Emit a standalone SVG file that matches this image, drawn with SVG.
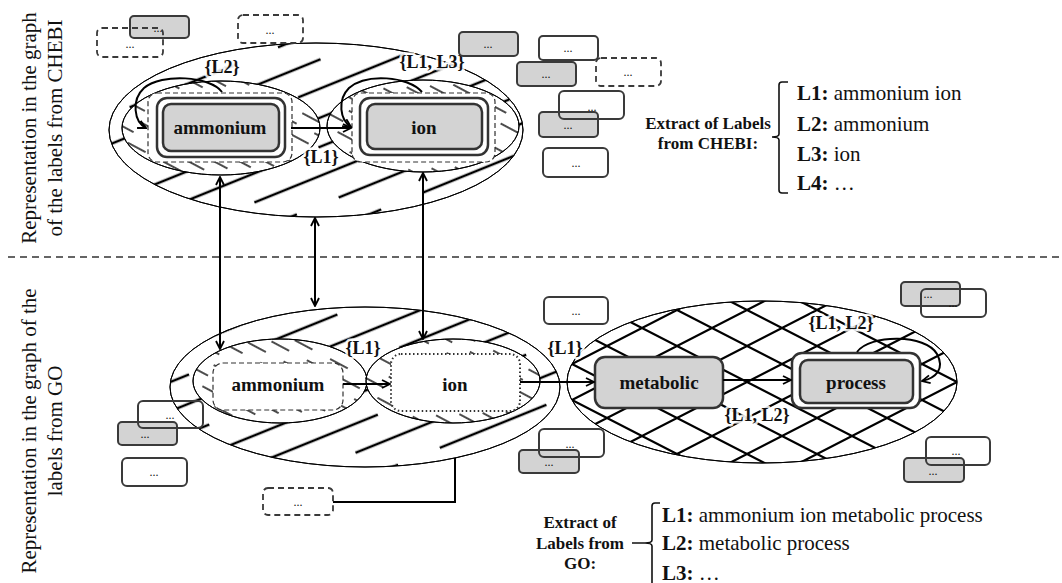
<svg xmlns="http://www.w3.org/2000/svg" width="1062" height="583" viewBox="0 0 1062 583">
  <defs>
    <style>
      text { font-family: "Liberation Serif", "Times New Roman", serif; fill: #111; }
      .side { font-size: 21px; }
      .node { font-size: 19px; font-weight: bold; text-anchor: middle; }
      .lbl { font-size: 18px; font-weight: bold; text-anchor: middle; stroke: #fff; stroke-opacity: 0.85; stroke-width: 5; stroke-linejoin: round; paint-order: stroke; }
      .dots { font-size: 12px; text-anchor: middle; }
      .ext { font-size: 17px; font-weight: bold; text-anchor: middle; }
      .list { font-size: 21px; }
      .b { fill: #fff; stroke: #3a3a3a; stroke-width: 2; }
      .bo { fill: none; stroke: #3a3a3a; stroke-width: 2; }
      .g { fill: #d3d3d3; stroke: #3a3a3a; stroke-width: 2; }
      .d { fill: #fff; stroke: #3a3a3a; stroke-width: 1.8; stroke-dasharray: 6 4; }
      .do { fill: none; stroke: #3a3a3a; stroke-width: 1.8; stroke-dasharray: 6 4; }
      .outer { stroke: #000; stroke-width: 1; }
      .inner { stroke: #000; stroke-width: 1; }
      .frame { fill: #fff; stroke: #333; stroke-width: 1.2; stroke-dasharray: 5 3; }
      .nodeOut { fill: #fff; stroke: #333; stroke-width: 2.5; }
      .nodeIn { fill: #d3d3d3; stroke: #333; stroke-width: 2.5; }
      .arr { fill: none; stroke: #000; stroke-width: 2; }
    </style>
    <!-- wide upward diagonal hatch -->
    <pattern id="diag" patternUnits="userSpaceOnUse" width="160" height="54" patternTransform="rotate(-22)">
      <g stroke="#000" stroke-width="2.4">
        <line x1="0" y1="13" x2="115" y2="13"/>
        <line x1="80" y1="40" x2="160" y2="40"/>
        <line x1="0" y1="40" x2="35" y2="40"/>
      </g>
    </pattern>
    <!-- fine downward hatch -->
    <pattern id="fine" patternUnits="userSpaceOnUse" width="40" height="24" patternTransform="rotate(28)">
      <g stroke="#000" stroke-width="1.4">
        <line x1="0" y1="6" x2="20" y2="6"/>
        <line x1="20" y1="18" x2="40" y2="18"/>
      </g>
    </pattern>
    <!-- diamond cross hatch -->
    <pattern id="cross" patternUnits="userSpaceOnUse" width="70" height="36" x="12" y="4">
      <path d="M0,0 L70,36 M0,36 L70,0" stroke="#000" stroke-width="2.2" fill="none"/>
    </pattern>
    <marker id="ah" viewBox="0 0 10 10" refX="9" refY="5" markerWidth="10" markerHeight="10" markerUnits="userSpaceOnUse" orient="auto-start-reverse">
      <path d="M1,1 L9,5 L1,9" fill="none" stroke="#000" stroke-width="1.8"/>
    </marker>
  </defs>

  <rect width="1062" height="583" fill="#fff"/>

  <!-- side captions -->
  <text class="side" text-anchor="middle" transform="translate(36,128) rotate(-90)">Representation in the graph</text>
  <text class="side" text-anchor="middle" transform="translate(62,128) rotate(-90)">of the labels from CHEBI</text>
  <text class="side" text-anchor="middle" transform="translate(36,431) rotate(-90)">Representation in the graph of the</text>
  <text class="side" text-anchor="middle" transform="translate(62,431) rotate(-90)">labels from GO</text>

  <!-- section divider -->
  <line x1="8" y1="257" x2="1062" y2="257" stroke="#333" stroke-width="1.6" stroke-dasharray="7 5"/>

  <!-- CHEBI graph -->
  <g id="chebi-group">
    <ellipse cx="316" cy="130" rx="207" ry="87" fill="#fff" class="outer"/>
    <ellipse cx="316" cy="130" rx="207" ry="87" fill="url(#diag)" class="outer"/>
  </g>
  <g id="chebi-ammonium">
    <ellipse cx="221" cy="128" rx="99" ry="47" fill="#fff" class="inner"/>
    <ellipse cx="221" cy="128" rx="99" ry="47" fill="url(#fine)" class="inner"/>
    <rect x="148" y="93" width="144" height="69" rx="9" class="frame"/>
    <rect x="157" y="98" width="128" height="59" rx="10" class="nodeOut"/>
    <rect x="163" y="104" width="116" height="47" rx="8" class="nodeIn"/>
    <text class="node" x="220" y="134">ammonium</text>
  </g>
  <g id="chebi-ion">
    <ellipse cx="423" cy="126" rx="96" ry="46" fill="#fff" class="inner"/>
    <ellipse cx="423" cy="126" rx="96" ry="46" fill="url(#fine)" class="inner"/>
    <rect x="352" y="93" width="143" height="69" rx="9" class="frame"/>
    <rect x="360" y="98" width="128" height="57" rx="10" class="nodeOut"/>
    <rect x="367" y="104" width="115" height="45" rx="8" class="nodeIn"/>
    <text class="node" x="424" y="134">ion</text>
  </g>

  <!-- GO graph -->
  <g id="go-group-left">
    <ellipse cx="365" cy="387" rx="195" ry="80" fill="#fff" class="outer"/>
    <ellipse cx="365" cy="387" rx="195" ry="80" fill="url(#diag)" class="outer"/>
  </g>
  <g id="go-ammonium">
    <ellipse cx="280" cy="381" rx="87" ry="42" fill="#fff" class="inner"/>
    <ellipse cx="280" cy="381" rx="87" ry="42" fill="url(#fine)" class="inner"/>
    <rect x="213" y="363" width="130" height="47" rx="10" class="frame" stroke-width="1.4"/>
    <text class="node" x="278" y="391">ammonium</text>
  </g>
  <g id="go-ion">
    <ellipse cx="453" cy="381" rx="87" ry="42" fill="#fff" class="inner"/>
    <ellipse cx="453" cy="381" rx="87" ry="42" fill="url(#fine)" class="inner"/>
    <rect x="391" y="354" width="129" height="57" rx="10" fill="#fff" stroke="#333" stroke-width="2" stroke-dasharray="1.5 2.5"/>
    <text class="node" x="455" y="391">ion</text>
  </g>
  <g id="go-group-right">
    <ellipse cx="762" cy="382" rx="195" ry="81" fill="#fff" class="outer"/>
    <ellipse cx="762" cy="382" rx="195" ry="81" fill="url(#cross)" class="outer"/>
  </g>
  <g id="go-metabolic">
    <rect x="595" y="357" width="128" height="51" rx="10" class="nodeIn"/>
    <text class="node" x="659" y="389">metabolic</text>
  </g>
  <g id="go-process">
    <rect x="792" y="353" width="128" height="55" rx="10" class="nodeOut"/>
    <rect x="800" y="360" width="113" height="43" rx="8" class="nodeIn"/>
    <text class="node" x="856" y="389">process</text>
  </g>

  <!-- connectors -->
  <g id="connectors">
    <line x1="291" y1="128" x2="351" y2="128" class="arr" marker-end="url(#ah)"/>
    <path d="M222,92 C210,76 162,73 144,88 C131,100 134,122 146,128" class="arr" marker-end="url(#ah)"/>
    <path d="M422,92 C408,76 366,73 349,88 C337,100 340,120 351,127" class="arr" marker-end="url(#ah)"/>
    <line x1="220" y1="177" x2="220" y2="349" class="arr" marker-start="url(#ah)" marker-end="url(#ah)"/>
    <line x1="315" y1="218" x2="315" y2="306" class="arr" marker-start="url(#ah)" marker-end="url(#ah)"/>
    <line x1="423" y1="173" x2="423" y2="339" class="arr" marker-start="url(#ah)" marker-end="url(#ah)"/>
    <line x1="343" y1="384" x2="390" y2="384" class="arr" marker-end="url(#ah)"/>
    <line x1="520" y1="382" x2="594" y2="382" class="arr" marker-end="url(#ah)"/>
    <line x1="723" y1="380" x2="791" y2="380" class="arr" marker-end="url(#ah)"/>
    <path d="M857,352 C870,334 926,334 937,354 C945,369 936,378 922,381" class="arr" marker-end="url(#ah)"/>
    <polyline points="333,502 455,502 455,458" class="arr"/>
  </g>

  <!-- edge labels -->
  <g id="edge-labels">
    <text class="lbl" x="222" y="73">{L2}</text>
    <text class="lbl" x="321" y="163">{L1}</text>
    <text class="lbl" x="432" y="68">{L1, L3}</text>
    <text class="lbl" x="363" y="354">{L1}</text>
    <text class="lbl" x="565" y="354">{L1}</text>
    <text class="lbl" x="841" y="329">{L1, L2}</text>
    <text class="lbl" x="757" y="421">{L1, L2}</text>
  </g>

  <!-- other label nodes -->
  <g id="more-chebi-1">
    <rect x="130" y="16" width="59" height="22" rx="4" class="g"/>
    <text class="dots" x="158" y="32">...</text>
    <rect x="97" y="28" width="66" height="29" rx="5" class="do"/>
    <text class="dots" x="130" y="48">...</text>
  </g>
  <g id="more-chebi-2">
    <rect x="238" y="15" width="65" height="28" rx="5" class="d"/>
    <text class="dots" x="270" y="34">...</text>
  </g>
  <g id="more-chebi-3">
    <rect x="459" y="32" width="59" height="24" rx="4" class="g"/>
    <text class="dots" x="488" y="48">...</text>
  </g>
  <g id="more-chebi-4">
    <rect x="539" y="36" width="59" height="24" rx="4" class="b"/>
    <text class="dots" x="568" y="52">...</text>
  </g>
  <g id="more-chebi-5">
    <rect x="517" y="62" width="59" height="24" rx="4" class="g"/>
    <text class="dots" x="546" y="78">...</text>
  </g>
  <g id="more-chebi-6">
    <rect x="596" y="58" width="65" height="28" rx="5" class="d"/>
    <text class="dots" x="628" y="76">...</text>
  </g>
  <g id="more-chebi-7">
    <rect x="539" y="112" width="59" height="25" rx="4" class="g"/>
    <text class="dots" x="568" y="129">...</text>
    <rect x="559" y="91" width="65" height="28" rx="5" class="bo"/>
    <text class="dots" x="592" y="111">...</text>
  </g>
  <g id="more-chebi-8">
    <rect x="543" y="148" width="65" height="29" rx="5" class="b"/>
    <text class="dots" x="576" y="167">...</text>
  </g>

  <g id="more-go-1">
    <rect x="544" y="297" width="64" height="27" rx="5" class="b"/>
    <text class="dots" x="576" y="315">...</text>
  </g>
  <g id="more-go-2">
    <rect x="519" y="450" width="60" height="23" rx="4" class="g"/>
    <text class="dots" x="549" y="466">...</text>
    <rect x="539" y="429" width="65" height="28" rx="5" class="bo"/>
    <text class="dots" x="570" y="448">...</text>
  </g>
  <g id="more-go-3">
    <rect x="118" y="422" width="59" height="23" rx="4" class="g"/>
    <text class="dots" x="145" y="438">...</text>
    <rect x="138" y="401" width="65" height="27" rx="5" class="bo"/>
    <text class="dots" x="170" y="419">...</text>
  </g>
  <g id="more-go-4">
    <rect x="122" y="458" width="65" height="28" rx="5" class="b"/>
    <text class="dots" x="154" y="476">...</text>
  </g>
  <g id="more-go-5">
    <rect x="263" y="488" width="70" height="27" rx="5" class="d" stroke-width="1.4"/>
    <text class="dots" x="298" y="506">...</text>
  </g>
  <g id="more-go-6">
    <rect x="901" y="282" width="59" height="24" rx="4" class="g"/>
    <text class="dots" x="928" y="298">...</text>
    <rect x="921" y="289" width="65" height="28" rx="5" class="bo"/>
    <text class="dots" x="953" y="307">...</text>
  </g>
  <g id="more-go-7">
    <rect x="904" y="458" width="60" height="24" rx="4" class="g"/>
    <text class="dots" x="933" y="475">...</text>
    <rect x="926" y="437" width="64" height="28" rx="5" class="bo"/>
    <text class="dots" x="956" y="455">...</text>
  </g>

  <!-- CHEBI label extract -->
  <g id="chebi-extract">
    <text class="ext" x="708" y="129">Extract of Labels</text>
    <text class="ext" x="708" y="149">from CHEBI:</text>
    <path d="M788,82 L782,82 Q779,82 779,85 L779,134 Q779,137 772,137 Q779,137 779,140 L779,190 Q779,193 782,193 L788,193" fill="none" stroke="#111" stroke-width="1.6"/>
    <text class="list" x="797" y="100"><tspan font-weight="bold">L1:</tspan> ammonium ion</text>
    <text class="list" x="797" y="131"><tspan font-weight="bold">L2:</tspan> ammonium</text>
    <text class="list" x="797" y="161"><tspan font-weight="bold">L3:</tspan> ion</text>
    <text class="list" x="797" y="190"><tspan font-weight="bold">L4:</tspan> …</text>
  </g>

  <!-- GO label extract -->
  <g id="go-extract">
    <text class="ext" x="580" y="528">Extract of</text>
    <text class="ext" x="580" y="549">Labels from</text>
    <text class="ext" x="580" y="569">GO:</text>
    <path d="M660,503 L655,503 Q652,503 652,506 L652,540 Q652,543 645,543 L632,543 M645,543 Q652,543 652,546 L652,583" fill="none" stroke="#111" stroke-width="1.6"/>
    <text class="list" x="662" y="522"><tspan font-weight="bold">L1:</tspan> ammonium ion metabolic process</text>
    <text class="list" x="662" y="550"><tspan font-weight="bold">L2:</tspan> metabolic process</text>
    <text class="list" x="662" y="580"><tspan font-weight="bold">L3:</tspan> …</text>
  </g>
</svg>
